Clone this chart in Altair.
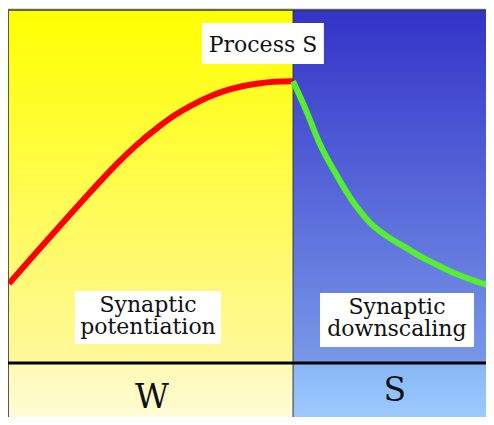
import altair as alt
import pandas as pd

# ---- data ----
wake_hours = [0, 1.3, 2.1, 3.0, 3.8, 4.6, 5.4, 6.2, 7.4, 8.2, 9.0, 9.9, 10.6, 11.5, 12.3, 13.1, 14]
wake_S = [22.5, 31.0, 36.2, 42.0, 47.1, 52.1, 56.9, 61.3, 67.0, 70.3, 73.0, 75.5, 77.0, 78.4, 79.2, 79.65, 79.8]
sleep_hours = [14, 14.7, 15.3, 16.2, 17.0, 17.8, 18.6, 19.5, 20.25, 21.1, 21.9, 22.7, 23.9]
sleep_S = [79.8, 70.8, 62.3, 52.7, 45.3, 39.7, 36.0, 32.9, 30.3, 27.8, 25.6, 23.8, 21.5]

phase_names = ["W", "S"]
phase_start = [0, 14]
phase_end = [14, 24]

X_DOM = [-0.049, 23.51]
Y_DOM = [-15.30, 100.57]
TOP = 100

# white label boxes
box_x1 = [9.51, 3.25, 15.33]
box_x2 = [15.52, 10.45, 22.92]
box_y1 = [84.7, 5.4, 4.5]
box_y2 = [96.3, 20.4, 19.8]

label_text = ["Synaptic\npotentiation", "Synaptic\ndownscaling"]
label_x = [6.85, 19.12]
label_y = [14.4, 13.8]

title_text = ["Process S"]
title_x = [12.52]
title_y = [88.1]

phase_label_x = [7.05, 19.02]
phase_label_y = [-12.7, -10.8]

FONT = "DejaVu Serif"

x = alt.X("x:Q", scale=alt.Scale(domain=X_DOM, nice=False, zero=False), axis=None)
y = alt.Y("y:Q", scale=alt.Scale(domain=Y_DOM, nice=False, zero=False), axis=None)


def grad(c1, c2):
    return alt.Gradient(
        gradient="linear",
        stops=[alt.GradientStop(offset=0, color=c1), alt.GradientStop(offset=1, color=c2)],
        x1=0, x2=0, y1=0, y2=1,
    )


def panel(i, ylo, yhi, c1, c2):
    df = pd.DataFrame({"x": [phase_start[i]], "x2": [phase_end[i]], "y": [ylo], "y2": [yhi]})
    return alt.Chart(df).mark_rect(color=grad(c1, c2), strokeWidth=0, clip=True).encode(
        x=x, x2="x2:Q", y=y, y2="y2:Q"
    )


panels = [
    panel(0, 0, TOP, "#ffff00", "#fff89c"),
    panel(1, 0, TOP, "#3333c8", "#7898e8"),
    panel(0, Y_DOM[0], 0, "#fff9b4", "#fffcd6"),
    panel(1, Y_DOM[0], 0, "#88b6f4", "#9ccaff"),
]

# frame lines
top_df = pd.DataFrame({"x": [X_DOM[0]], "x2": [X_DOM[1]], "y": [TOP]})
top_line = alt.Chart(top_df).mark_rule(color="#333333", strokeWidth=1.5).encode(x=x, x2="x2:Q", y=y)
left_df = pd.DataFrame({"x": [X_DOM[0]], "y": [Y_DOM[0]], "y2": [TOP]})
left_line = alt.Chart(left_df).mark_rule(color="#555555", strokeWidth=2).encode(x=x, y=y, y2="y2:Q")
div_df = pd.DataFrame({"x": [phase_start[1]], "y": [Y_DOM[0]], "y2": [TOP]})
div_line = alt.Chart(div_df).mark_rule(color="#333333", strokeWidth=1).encode(x=x, y=y, y2="y2:Q")
base_df = pd.DataFrame({"x": [X_DOM[0]], "x2": [X_DOM[1]], "y": [0]})
base_line = alt.Chart(base_df).mark_rule(color="#000000", strokeWidth=3).encode(x=x, x2="x2:Q", y=y)

# curves
wake_df = pd.DataFrame({"x": wake_hours, "y": wake_S})
sleep_df = pd.DataFrame({"x": sleep_hours, "y": sleep_S})
red = alt.Chart(wake_df).mark_line(
    color="#ff0000", strokeWidth=6, interpolate="monotone", clip=True
).encode(x=x, y=y)
green = alt.Chart(sleep_df).mark_line(
    color="#55ee30", strokeWidth=6, interpolate="monotone", clip=True
).encode(x=x, y=y)

box_df = pd.DataFrame({"x": box_x1, "x2": box_x2, "y": box_y1, "y2": box_y2})
boxes = alt.Chart(box_df).mark_rect(color="white").encode(x=x, x2="x2:Q", y=y, y2="y2:Q")

lab_df = pd.DataFrame({"x": label_x, "y": label_y, "t": label_text})
labels = alt.Chart(lab_df).mark_text(
    font=FONT, fontSize=22, color="#111111", align="center", baseline="alphabetic",
    lineBreak="\n", lineHeight=22,
).encode(x=x, y=y, text="t:N")

ttl_df = pd.DataFrame({"x": title_x, "y": title_y, "t": title_text})
title = alt.Chart(ttl_df).mark_text(
    font=FONT, fontSize=22, color="#111111", align="center", baseline="alphabetic"
).encode(x=x, y=y, text="t:N")

ph_df = pd.DataFrame({"x": phase_label_x, "y": phase_label_y, "t": phase_names})
ph_labels = alt.Chart(ph_df).mark_text(
    font=FONT, fontSize=33, color="#111111", align="center", baseline="alphabetic"
).encode(x=x, y=y, text="t:N")

chart = alt.layer(
    *panels, div_line, top_line, left_line, base_line, red, green, boxes, labels, title, ph_labels
).properties(
    width=478, height=409, padding=0,
    autosize=alt.AutoSizeParams(type="none"),
).configure_view(stroke=None).configure(background="white")

chart.save("out.html", embed_options={"renderer": "svg", "actions": False})
